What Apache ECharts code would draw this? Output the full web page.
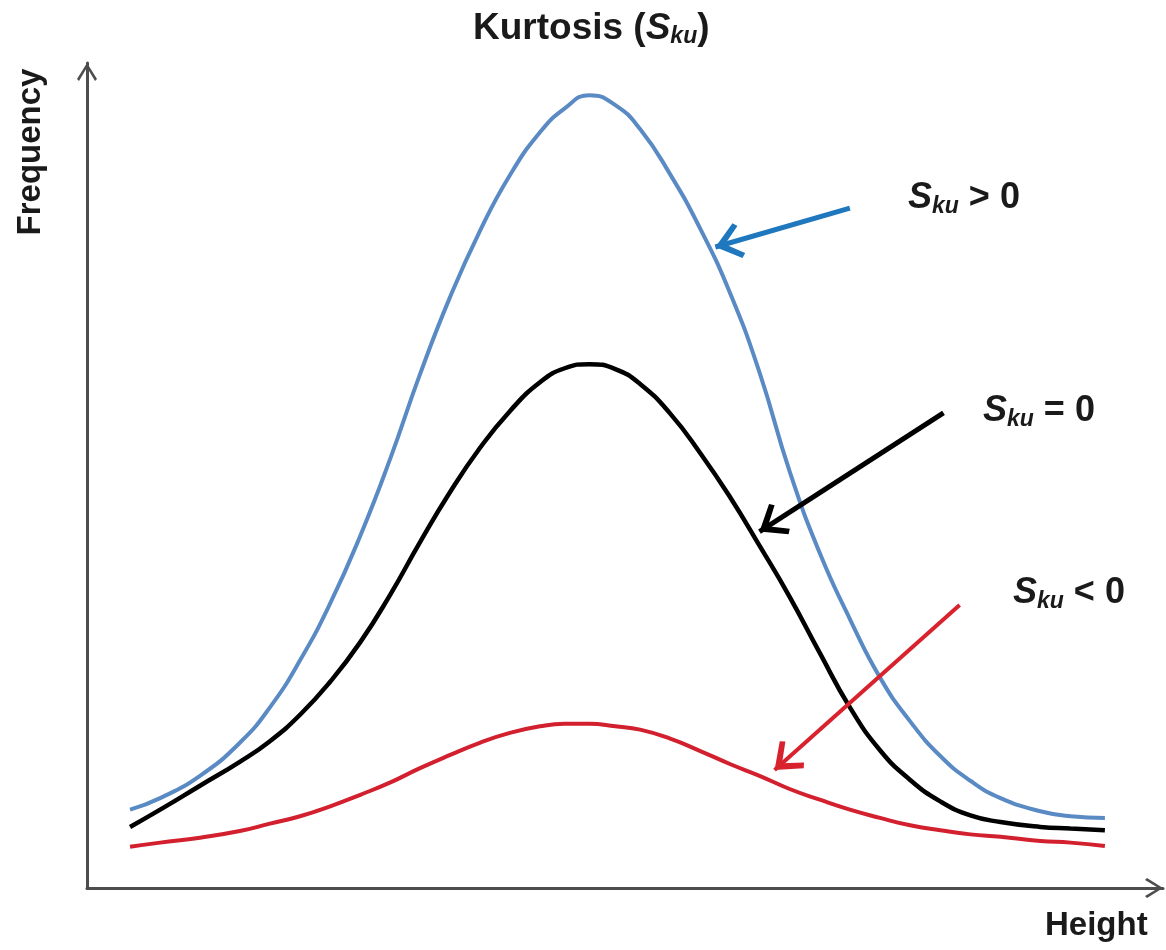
<!DOCTYPE html>
<html>
<head>
    <meta charset="UTF-8">
    <title>Kurtosis (Sku)</title>
    <script src="https://cdn.jsdelivr.net/npm/echarts@6/dist/echarts.min.js"></script>
    <style>
        html, body {
            margin: 0;
            padding: 0;
            background: #fff;
        }

        #chart {
            width: 1166px;
            height: 950px;
        }
    </style>
</head>
<body>
<div id="chart"></div>
<script>
    // heights (x) shared by the three curves, frequencies
    var heights = [0.40, 0.68, 1.05, 1.42, 1.70, 1.98, 2.26, 2.54, 2.82, 3.09, 3.37, 3.65, 3.93, 4.21, 4.44, 4.67,
        4.91, 5.14, 5.42, 5.70, 5.98, 6.25, 6.53, 6.81, 7.09, 7.37, 7.65, 7.93, 8.21, 8.49, 8.86, 9.14, 9.46];
    var freqPositive = [0.95, 1.09, 1.36, 1.76, 2.19, 2.76, 3.45, 4.27, 5.21, 6.21, 7.15, 7.96, 8.64, 9.16, 9.45, 9.61,
        9.49, 9.20, 8.65, 7.99, 7.20, 6.25, 5.05, 4.06, 3.26, 2.55, 2.02, 1.60, 1.30, 1.09, 0.93, 0.87, 0.85];
    var freqZero = [0.74, 0.95, 1.24, 1.53, 1.78, 2.10, 2.50, 2.98, 3.56, 4.18, 4.79, 5.33, 5.78, 6.13, 6.30, 6.35,
        6.29, 6.11, 5.75, 5.27, 4.73, 4.15, 3.53, 2.85, 2.19, 1.67, 1.31, 1.05, 0.88, 0.80, 0.74, 0.72, 0.70];
    var freqNegative = [0.50, 0.55, 0.61, 0.69, 0.78, 0.87, 0.99, 1.13, 1.28, 1.45, 1.61, 1.76, 1.88, 1.96, 1.99, 1.99,
        1.96, 1.92, 1.81, 1.66, 1.50, 1.36, 1.20, 1.07, 0.95, 0.85, 0.76, 0.70, 0.65, 0.62, 0.57, 0.55, 0.51];

    // annotation arrows: [from, to] in data units
    var arrowPositive = [[7.09, 8.24], [5.84, 7.77]];
    var arrowZero = [[7.96, 5.76], [6.25, 4.32]];
    var arrowNegative = [[8.11, 3.43], [6.39, 1.43]];

    var labelPositive = '>', labelZero = '=', labelNegative = '<';

    // open chevron, tip sits at the centre of the bounding box
    var headPath = 'path://M27,0 L27.01,0 M0,27 L0.01,27 M54,27 L53.99,27 M27,27 L45,50 L41,54 L27,37 L13,54 L9,50 Z';
    var axisHead = 'path://M10,2 L10.01,2 M10,20 L20,36 L18,38 L10,24.5 L2,38 L0,36 Z';

    var font = '"Liberation Sans", Arial, sans-serif';

    var zip = function (xs, ys) {
        return xs.map(function (x, i) {
            return [x, ys[i]];
        });
    };

    var arrowLine = function (pair, color, width) {
        return {
            silent: true,
            animation: false,
            symbol: ['none', headPath],
            symbolSize: 54,
            label: {show: false},
            lineStyle: {color: color, width: width, type: 'solid'},
            data: [[{coord: pair[0]}, {coord: pair[1]}]]
        };
    };

    var richText = function (size) {
        return {
            n: {fontFamily: font, fontWeight: 'bold', fontSize: size, lineHeight: 40, fill: '#1a1a1a'},
            s: {fontFamily: font, fontWeight: 'bold', fontStyle: 'italic', fontSize: size, lineHeight: 40, fill: '#1a1a1a'},
            sub: {fontFamily: font, fontWeight: 'bold', fontStyle: 'italic', fontSize: 23, lineHeight: 19, verticalAlign: 'bottom', fill: '#1a1a1a'}
        };
    };

    var subLabel = function (left, top, sign) {
        return {
            type: 'text',
            left: left,
            top: top,
            style: {
                text: '{s|S}{sub|ku}{n| ' + sign + ' 0}',
                rich: richText(36)
            }
        };
    };

    var chart = echarts.init(document.getElementById('chart'));
    chart.setOption({
        animation: false,
        grid: {left: 87, right: 3, top: 63, bottom: 62},
        xAxis: {
            type: 'value', min: 0, max: 10,
            axisLine: {
                show: true,
                symbol: ['none', axisHead],
                symbolSize: [20, 36],
                lineStyle: {color: '#4d4d4d', width: 3}
            },
            axisTick: {show: false}, axisLabel: {show: false}, splitLine: {show: false}
        },
        yAxis: {
            type: 'value', min: 0, max: 10,
            axisLine: {
                show: true,
                symbol: ['none', axisHead],
                symbolSize: [20, 36],
                lineStyle: {color: '#4d4d4d', width: 3}
            },
            axisTick: {show: false}, axisLabel: {show: false}, splitLine: {show: false}
        },
        series: [
            {
                name: 'Sku > 0', type: 'line', smooth: true, showSymbol: false,
                data: zip(heights, freqPositive),
                lineStyle: {color: '#5a8ac4', width: 4},
                markLine: arrowLine(arrowPositive, '#1f78be', 5)
            },
            {
                name: 'Sku = 0', type: 'line', smooth: true, showSymbol: false,
                data: zip(heights, freqZero),
                lineStyle: {color: '#000000', width: 4.5},
                markLine: arrowLine(arrowZero, '#000000', 5)
            },
            {
                name: 'Sku < 0', type: 'line', smooth: true, showSymbol: false,
                data: zip(heights, freqNegative),
                lineStyle: {color: '#d2202e', width: 4},
                markLine: arrowLine(arrowNegative, '#d8222e', 4)
            }
        ],
        graphic: [
            {
                type: 'text', left: 473, top: 10,
                style: {text: '{n|Kurtosis (}{s|S}{sub|ku}{n|)}', rich: richText(37)}
            },
            subLabel(908, 180, labelPositive),
            subLabel(983, 393, labelZero),
            subLabel(1013, 575, labelNegative),
            {
                type: 'text', x: 31, y: 152, rotation: Math.PI / 2,
                style: {
                    text: 'Frequency', fontFamily: font, fontWeight: 'bold', fontSize: 33,
                    fill: '#1a1a1a', align: 'center', verticalAlign: 'middle'
                }
            },
            {
                type: 'text', left: 1045, top: 909,
                style: {text: 'Height', fontFamily: font, fontWeight: 'bold', fontSize: 33, fill: '#1a1a1a'}
            }
        ]
    });
</script>
</body>
</html>
